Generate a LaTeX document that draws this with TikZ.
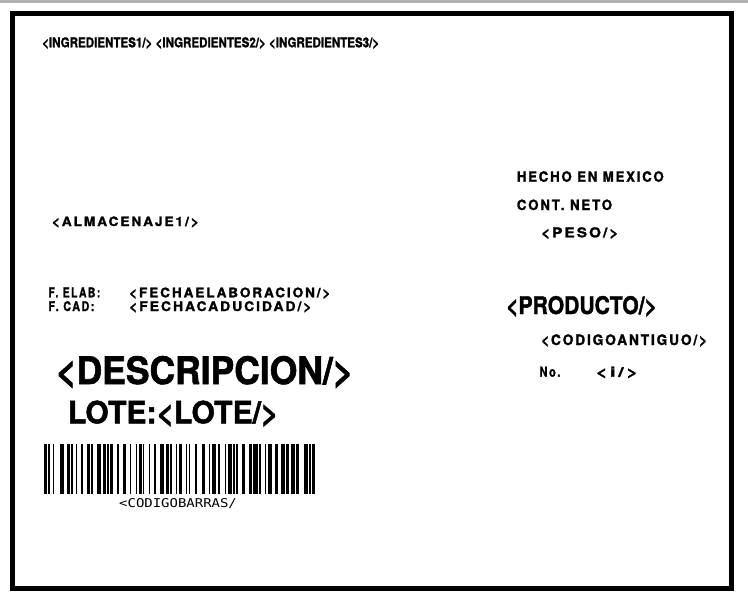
\documentclass[tikz,border=0pt]{standalone}
\usepackage{fontspec}
\usepackage{graphicx}
\usepackage{tikz}
\newfontfamily\labelfont[BoldFeatures={FakeBold=1.6}]{TeX Gyre Heros}
\newfontfamily\spacedfont[LetterSpace=14, BoldFeatures={FakeBold=1.6}]{TeX Gyre Heros}
\newfontfamily\barfont{DejaVu Sans Mono}

\begin{document}
\begin{tikzpicture}[x=1pt, y=-1pt, labeltext/.style={anchor=base west, inner sep=0pt}]
\def\bordercolor{black}
\def\barheight{50}
\def\barmodule{1.434}
\def\fittext#1#2#3{\resizebox{#1pt}{#2pt}{#3}}
\def\spaced#1{\spacedfont\bfseries #1\kern-0.14em}
\useasboundingbox (0,0) rectangle (748,600);

\fill[gray!60] (0,0) rectangle (748,2.5);
\draw[line width=5pt, \bordercolor] (12.5,13.5) rectangle (731.5,588.5);

\begin{scope}[shift={(0, 0)}] % LEFT COLUMN
\node (ingredientes) [labeltext] at (42,47.3) {\fittext{337}{10}{\labelfont\bfseries <INGREDIENTES1/> <INGREDIENTES2/> <INGREDIENTES3/>}};

\node (almacenaje) [labeltext] at (51.7,226) {\fittext{145}{9.5}{\spaced{<ALMACENAJE1/>}}};

\node (felab) [labeltext] at (48.3,297.3) {\fittext{50.4}{9.8}{\spaced{F. ELAB:}}};
\node (fechaelab) [labeltext] at (129,297.3) {\fittext{199.3}{9.8}{\spaced{<FECHAELABORACION/>}}};
\node (fcad) [labeltext] at (48.3,311) {\fittext{44.4}{9.8}{\spaced{F. CAD:}}};
\node (fechacad) [labeltext] at (129,311) {\fittext{180.3}{9.8}{\spaced{<FECHACADUCIDAD/>}}};

\node (descripcion) [labeltext] at (55.7,384) {\fittext{297.6}{28}{\labelfont\bfseries <DESCRIPCION/>}};
\node (lote) [labeltext] at (67.7,423.3) {\fittext{210.6}{22.7}{\labelfont\bfseries LOTE:<LOTE/>}};
\end{scope}

\begin{scope}[shift={(44, 444)}, xscale=\barmodule] % BARCODE
\foreach \w [count=\i, remember=\xnext as \xpos (initially 0), evaluate=\w as \xnext using \xpos+\w] in
  {2,1,1,2,1,4, 3,2,2,1,1,2, 1,3,1,3,2,1, 1,3,3,1,2,1,
   1,1,2,3,1,3, 2,3,1,3,1,1, 2,1,1,3,1,3, 1,3,3,1,2,1,
   1,3,1,1,2,3, 1,1,1,3,2,3, 2,3,1,1,3,1, 2,3,1,1,3,1,
   1,1,1,3,2,3, 2,1,3,1,1,3, 1,1,3,2,2,2, 3,1,2,1,3,1,
   2,3,3,1,1,1,2}
{
  \ifodd\i\relax \fill (\xpos,0) rectangle (\xnext,\barheight); \fi
}
\end{scope}
\node (codigobarras) [labeltext] at (119,507.3) {\fittext{117.7}{9}{\barfont <CODIGOBARRAS/}};

\begin{scope}[shift={(0, 0)}] % RIGHT COLUMN
\node (hecho) [labeltext] at (516.7,181.7) {\fittext{145}{10.5}{\spaced{HECHO EN MEXICO}}};
\node (contneto) [labeltext] at (516.7,210) {\fittext{93.3}{10.5}{\spaced{CONT. NETO}}};
\node (peso) [labeltext] at (541,237.3) {\fittext{75}{10}{\spaced{<PESO/>}}};

\node (producto) [labeltext] at (506,314) {\fittext{150.7}{18}{\labelfont\bfseries <PRODUCTO/>}};
\node (codigoantiguo) [labeltext] at (541,345) {\fittext{164}{10.7}{\spaced{<CODIGOANTIGUO/>}}};
\node (numero) [labeltext] at (539.3,376.7) {\fittext{19.4}{10}{\spaced{No.}}};
\node (consecutivo) [labeltext] at (595.7,376.7) {\fittext{39.3}{10}{\spaced{<i/>}}};
\end{scope}
\end{tikzpicture}
\end{document}
